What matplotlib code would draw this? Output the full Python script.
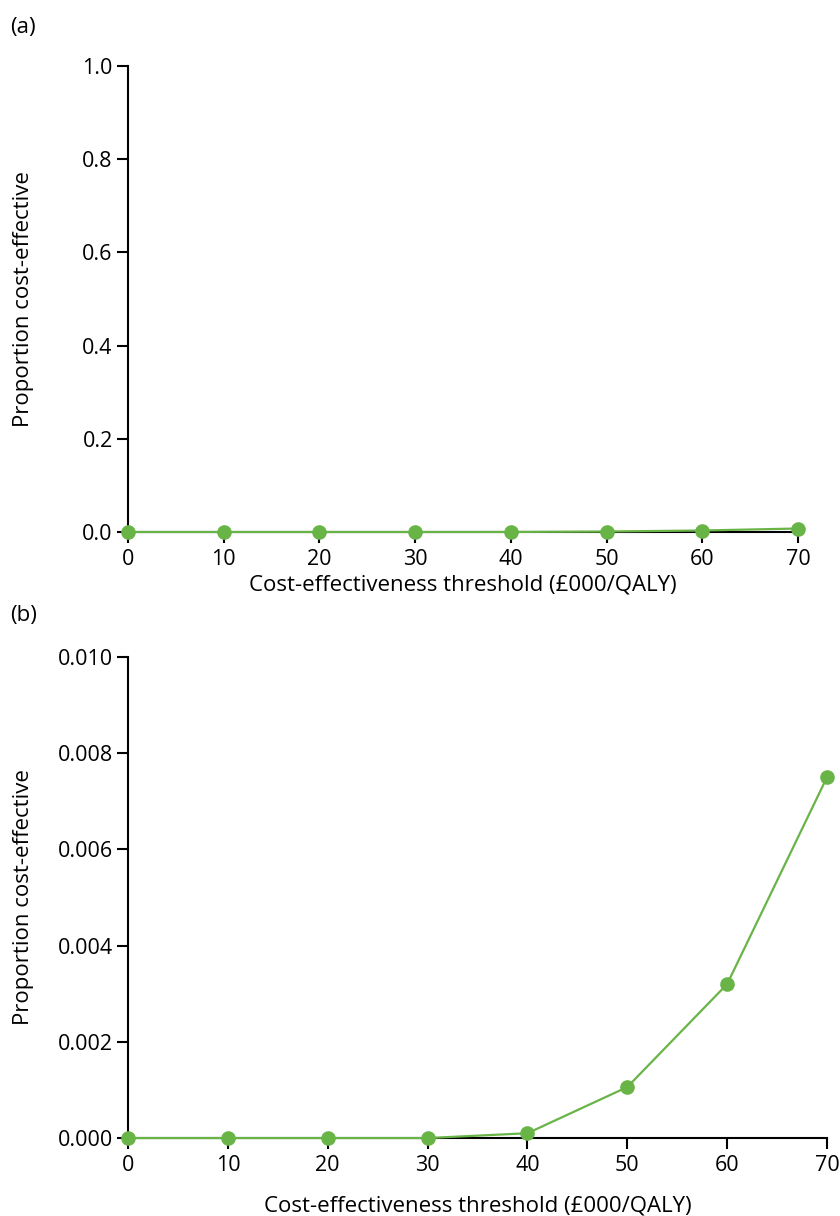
import numpy as np
import matplotlib.pyplot as plt

plt.rcParams['font.family'] = ['Open Sans', 'DejaVu Sans']

# Cost-effectiveness acceptability data
thresholds = [0, 10, 20, 30, 40, 50, 60, 70]
prop_ce = [0.0, 0.0, 0.0, 0.0, 0.0001, 0.00106, 0.0032, 0.0075]

green = '#69b447'
fs = 16

fig = plt.figure(figsize=(8.4, 12.16), dpi=100)
ax_a = fig.add_axes([0.1524, 0.5625, 0.7976, 0.3832])
ax_b = fig.add_axes([0.1524, 0.0641, 0.8321, 0.3956])


def style_axes(ax, ylim, yticks, fmt, width_px):
    ax.plot(thresholds, prop_ce, color=green, lw=1.6, marker='o', ms=9.5,
            clip_on=False, zorder=3)
    ax.set_xlim(0, 70)
    ax.set_ylim(*ylim)
    ax.set_xticks(thresholds)
    ax.set_yticks(yticks)
    ax.set_yticklabels([fmt.format(v) for v in yticks])
    ax.spines['top'].set_visible(False)
    ax.spines['right'].set_visible(False)
    for s in ('left', 'bottom'):
        ax.spines[s].set_linewidth(1.5)
    ax.tick_params(axis='both', direction='out', length=8, width=1.5,
                   labelsize=fs - 0.5)
    ax.tick_params(axis='x', pad=4)
    ax.tick_params(axis='y', pad=3)
    ax.set_ylabel('Proportion cost-effective', fontsize=fs, va='center')
    ax.yaxis.set_label_coords((23 - 128) / width_px, 0.5)


style_axes(ax_a, (0, 1.0), [0, 0.2, 0.4, 0.6, 0.8, 1.0], '{:.1f}', 670)
ax_a.set_xlabel('Cost-effectiveness threshold (£000/QALY)', fontsize=fs,
                labelpad=3.5)

style_axes(ax_b, (0, 0.010), [0, 0.002, 0.004, 0.006, 0.008, 0.010],
           '{:.3f}', 699)
ax_b.set_xlabel('Cost-effectiveness threshold (£000/QALY)', fontsize=fs,
                labelpad=14)

fig.text(0.012, 1 - 27 / 1216, '(a)', fontsize=fs, va='center')
fig.text(0.012, 1 - 616 / 1216, '(b)', fontsize=fs, va='center')

fig.savefig('out.png', dpi=100)
